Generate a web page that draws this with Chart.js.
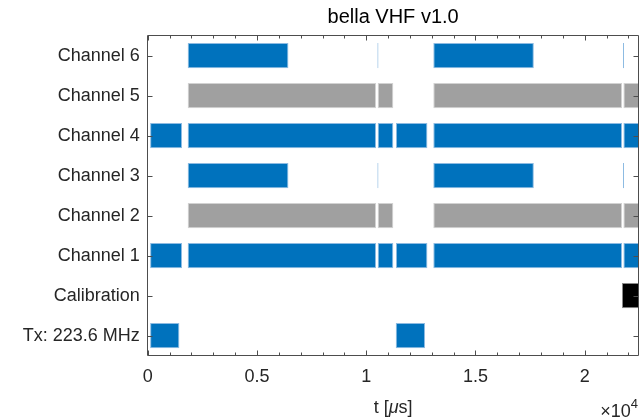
<!DOCTYPE html>
<html lang="en">
<head>
    <meta charset="UTF-8">
    <title>bella VHF v1.0</title>
    <script src="https://cdn.jsdelivr.net/npm/chart.js@4.4.0/dist/chart.umd.min.js"></script>
    <style>
        body { margin: 0; background: #fff; }
        .wrap { width: 639px; height: 419px; }
    </style>
</head>
<body>
    <div class="wrap"><canvas id="timeline"></canvas></div>
<script>
    // rows from top to bottom
    var rowLabels = ['Channel 6', 'Channel 5', 'Channel 4', 'Channel 3',
                     'Channel 2', 'Channel 1', 'Calibration', 'Tx: 223.6 MHz'];

    // on-periods per row, [start, end] in microseconds
    var ch6   = [[1830, 6440], [10510, 10560], [13070, 17670], [21750, 21800]];
    var ch5   = [[1830, 10450], [10525, 11240], [13070, 21705], [21770, 22500]];
    var ch4   = [[110, 1570], [1830, 10450], [10525, 11240], [11360, 12800], [13070, 21705], [21770, 22500]];
    var ch3   = [[1830, 6440], [10510, 10560], [13070, 17670], [21750, 21800]];
    var ch2   = [[1830, 10450], [10525, 11240], [13070, 21705], [21770, 22500]];
    var ch1   = [[110, 1570], [1830, 10450], [10525, 11240], [11360, 12800], [13070, 21705], [21770, 22500]];
    var calib = [[21705, 22500]];
    var tx    = [[110, 1450], [11350, 12690]];

    var rows = [ch6, ch5, ch4, ch3, ch2, ch1, calib, tx];

    var xMax = 22460;        // right edge of the axes
    var xTicks = [0, 5000, 10000, 15000, 20000];

    var blue = '#0072bd', gray = '#a0a0a0', black = '#000000';
    var rowColors  = [blue, gray, blue, blue, gray, blue, black, blue];
    var rowBorders = ['#8dbbe2', '#d2d2d2', '#8dbbe2', '#8dbbe2', '#d2d2d2', '#8dbbe2', '#8a8a8a', '#8dbbe2'];

    // one dataset per segment slot, all drawn in the same row slot
    var datasets = [];
    var nSeg = Math.max.apply(null, rows.map(function (r) { return r.length; }));
    for (var k = 0; k < nSeg; k++) {
        datasets.push({
            data: rows.map(function (r) { return r[k] || null; }),
            backgroundColor: rowColors,
            borderColor: rowBorders,
            borderWidth: 1,
            borderSkipped: false,
            grouped: false,
            barPercentage: 0.63,
            categoryPercentage: 1
        });
    }

    var FONT = 'Liberation Sans, Arial, Helvetica, sans-serif';
    Chart.defaults.font.family = FONT;
    Chart.defaults.color = '#262626';

    // box, inward ticks, axis title and exponent, drawn like MATLAB
    var matlabBox = {
        id: 'matlabBox',
        afterLayout: function (chart) {
            // center the title over the axes, not the whole canvas
            if (chart.titleBlock) {
                chart.titleBlock.left = chart.chartArea.left;
                chart.titleBlock.right = chart.chartArea.right;
            }
        },
        afterDatasetsDraw: function (chart) {
            var ctx = chart.ctx, a = chart.chartArea;
            var xs = chart.scales.x, ys = chart.scales.y;
            var L = Math.floor(a.left) + 0.5, R = Math.floor(a.right) + 0.5;
            var T = Math.floor(a.top) + 0.5, B = Math.floor(a.bottom) + 0.5;
            ctx.save();
            ctx.strokeStyle = '#4d4d4d';
            ctx.lineWidth = 1;
            ctx.beginPath();
            ctx.rect(L, T, R - L, B - T);
            for (var v = 0; v <= xMax; v += 1000) {
                var px = Math.round(xs.getPixelForValue(v)) + 0.5;
                var len = (v % 5000 === 0) ? 5 : 3;
                ctx.moveTo(px, B); ctx.lineTo(px, B - len);
                ctx.moveTo(px, T); ctx.lineTo(px, T + len);
            }
            for (var i = 0; i < rowLabels.length; i++) {
                var py = Math.round(ys.getPixelForValue(i)) + 0.5;
                ctx.moveTo(L, py); ctx.lineTo(L + 5, py);
                ctx.moveTo(R, py); ctx.lineTo(R - 5, py);
            }
            ctx.stroke();

            // x label: t [µs] with italic mu
            ctx.fillStyle = '#262626';
            ctx.textBaseline = 'middle';
            ctx.textAlign = 'left';
            var parts = [['t [', ''], ['\u03bc', 'italic '], ['s]', '']];
            var w = 0;
            parts.forEach(function (p) { ctx.font = p[1] + '18px ' + FONT; w += ctx.measureText(p[0]).width; });
            var cx = (a.left + a.right) / 2 - w / 2, cy = a.bottom + 52;
            parts.forEach(function (p) {
                ctx.font = p[1] + '18px ' + FONT;
                ctx.fillText(p[0], cx, cy);
                cx += ctx.measureText(p[0]).width;
            });

            // exponent label
            ctx.textBaseline = 'alphabetic';
            ctx.textAlign = 'right';
            ctx.font = '13px ' + FONT;
            var ew = ctx.measureText('4').width;
            ctx.fillText('4', 638, 408);
            ctx.font = '18px ' + FONT;
            ctx.fillText('\u00d710', 638 - ew, 417);
            ctx.restore();
        }
    };

    new Chart(document.getElementById('timeline'), {
        type: 'bar',
        data: { labels: rowLabels, datasets: datasets },
        options: {
            indexAxis: 'y',
            responsive: true,
            maintainAspectRatio: false,
            animation: false,
            layout: { padding: { left: 0, right: 0.5, top: 1.7, bottom: 0 } },
            plugins: {
                legend: { display: false },
                tooltip: { enabled: false },
                title: {
                    display: true,
                    text: 'bella VHF v1.0',
                    color: '#000',
                    font: { size: 20, weight: 'normal' },
                    padding: { top: 4, bottom: 6 }
                }
            },
            scales: {
                x: {
                    type: 'linear',
                    min: 0,
                    max: xMax,
                    afterFit: function (s) { s.height = 63.3; },
                    afterBuildTicks: function (s) { s.ticks = xTicks.map(function (v) { return { value: v }; }); },
                    ticks: {
                        font: { size: 18 },
                        padding: 11,
                        maxRotation: 0,
                        callback: function (v) { return String(v / 10000); }
                    },
                    grid: { display: false, drawTicks: false },
                    border: { display: false }
                },
                y: {
                    type: 'category',
                    afterFit: function (s) { s.width = 147.7; },
                    ticks: { font: { size: 18 }, padding: 8 },
                    grid: { display: false, drawTicks: false },
                    border: { display: false }
                }
            }
        },
        plugins: [matlabBox]
    });
</script>
</body>
</html>
